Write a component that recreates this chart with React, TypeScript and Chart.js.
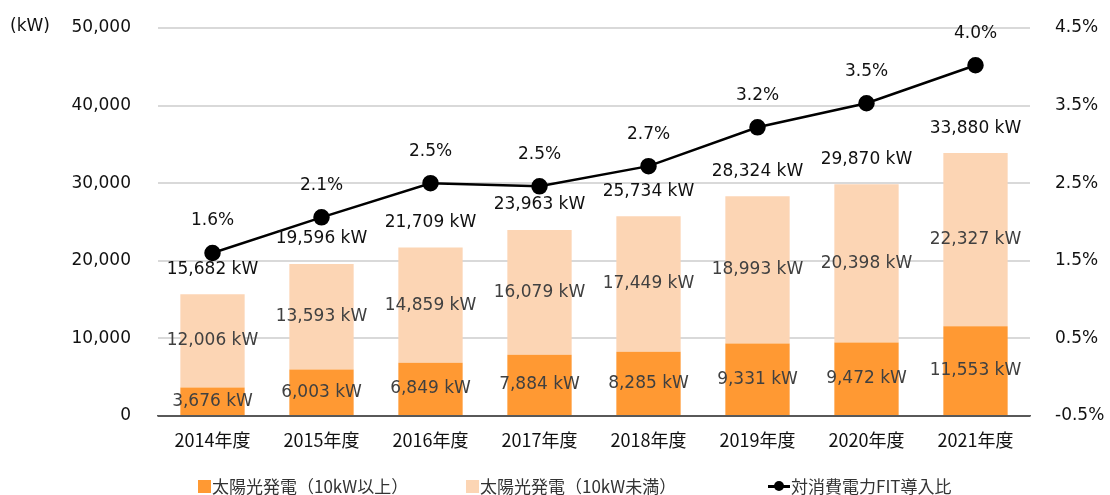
import React, { useEffect, useRef } from "react";
import { Chart, registerables } from "chart.js";

Chart.register(...registerables);

const categories = ["2014年度", "2015年度", "2016年度", "2017年度", "2018年度", "2019年度", "2020年度", "2021年度"];
const large = [3676, 6003, 6849, 7884, 8285, 9331, 9472, 11553];
const small = [12006, 13593, 14859, 16079, 17449, 18993, 20398, 22327];
const totals = [15682, 19596, 21709, 23963, 25734, 28324, 29870, 33880];
const ratio = [1.6, 2.06, 2.5, 2.46, 2.72, 3.22, 3.53, 4.02];
const seriesNames = ["太陽光発電（10kW以上）", "太陽光発電（10kW未満）", "対消費電力FIT導入比"];
const leftTicksMax = 50000;
const rightTicks = { min: -0.5, max: 4.5, step: 1 };

const DARK = "#FF9933";
const LIGHT = "#FCD5B4";
const NUM_FONT = "'DejaVu Sans', Verdana, sans-serif";
const CJK_FONT = "'Noto Sans CJK JP', sans-serif";

const fmt = (v: number) => v.toLocaleString("en-US");

const labelPlugin = {
  id: "labels",
  afterDatasetsDraw(chart: any) {
    const ctx = chart.ctx;
    ctx.save();
    ctx.textAlign = "center";
    ctx.textBaseline = "middle";
    ctx.font = `17px ${NUM_FONT}`;
    const m0 = chart.getDatasetMeta(0);
    const m1 = chart.getDatasetMeta(1);
    const m2 = chart.getDatasetMeta(2);
    m0.data.forEach((bar: any, i: number) => {
      const b1 = m1.data[i];
      ctx.fillStyle = "#404040";
      ctx.fillText(fmt(large[i]) + " kW", bar.x, (bar.y + bar.base) / 2);
      ctx.fillText(fmt(small[i]) + " kW", b1.x, (b1.y + b1.base) / 2);
      ctx.fillStyle = "#111";
      ctx.fillText(fmt(totals[i]) + " kW", b1.x, b1.y - 25);
      const p = m2.data[i];
      ctx.fillText(ratio[i].toFixed(1) + "%", p.x, p.y - 32);
    });
    ctx.textAlign = "left";
    ctx.fillStyle = "#111";
    ctx.fillText("(kW)", 10, chart.chartArea.top - 1);
    ctx.restore();
  },
};

export default function App() {
  const ref = useRef<HTMLCanvasElement>(null);
  useEffect(() => {
    if (!ref.current) return;
    const chart = new Chart(ref.current, {
      type: "bar",
      data: {
        labels: categories,
        datasets: [
          { type: "bar", label: seriesNames[0], data: large, backgroundColor: DARK, yAxisID: "y", order: 1, barPercentage: 0.59, categoryPercentage: 1 },
          { type: "bar", label: seriesNames[1], data: small, backgroundColor: LIGHT, yAxisID: "y", order: 1, barPercentage: 0.59, categoryPercentage: 1 },
          {
            type: "line", label: seriesNames[2], data: ratio, yAxisID: "y1", order: 0,
            borderColor: "#000", borderWidth: 2.5, backgroundColor: "#000",
            pointRadius: 7, pointBackgroundColor: "#000", pointBorderColor: "#000", tension: 0,
          },
        ],
      } as any,
      options: {
        animation: false,
        responsive: true,
        maintainAspectRatio: false,
        layout: { padding: { top: 28, bottom: 0, left: 0, right: 0 } },
        plugins: { legend: { display: false }, tooltip: { enabled: false } },
        scales: {
          x: {
            stacked: true,
            grid: { display: false, drawTicks: false },
            border: { display: true, color: "#595959", width: 1.5 },
            ticks: { font: { family: CJK_FONT, size: 18 }, color: "#111", padding: 13 },
            afterFit: (s: any) => { s.height = 79; },
          },
          y: {
            stacked: true,
            min: 0,
            max: leftTicksMax,
            border: { display: false },
            grid: {
              drawTicks: true,
              tickLength: 27,
              tickColor: "rgba(0,0,0,0)",
              lineWidth: 2,
              color: (c: any) => (c.tick && c.tick.value === 0 ? "#595959" : "#D9D9D9"),
            },
            ticks: { stepSize: 10000, padding: 0, color: "#111", font: { family: NUM_FONT, size: 17 }, callback: (v: any) => fmt(Number(v)) },
            afterFit: (s: any) => { s.width = 158; },
          },
          y1: {
            position: "right",
            min: rightTicks.min,
            max: rightTicks.max,
            border: { display: false },
            grid: { display: true, drawOnChartArea: false, drawTicks: true, tickLength: 25, tickColor: "rgba(0,0,0,0)", color: "rgba(0,0,0,0)" },
            ticks: { stepSize: rightTicks.step, padding: 0, color: "#111", font: { family: NUM_FONT, size: 17 }, callback: (v: any) => Number(v).toFixed(1) + "%" },
            afterFit: (s: any) => { s.width = 80; },
          },
        },
      } as any,
      plugins: [labelPlugin],
    });
    return () => chart.destroy();
  }, []);

  const legendText: React.CSSProperties = { position: "absolute", top: 476, fontFamily: CJK_FONT, fontSize: 17, color: "#333", lineHeight: "20px", whiteSpace: "nowrap" };
  return (
    <div style={{ position: "fixed", left: 0, top: 0, width: 1110, height: 495, background: "#fff" }}>
      <canvas ref={ref} />
      <div style={{ position: "absolute", left: 198, top: 480, width: 13, height: 13, background: DARK }} />
      <div style={{ ...legendText, left: 212 }}>{seriesNames[0]}</div>
      <div style={{ position: "absolute", left: 466, top: 480, width: 13, height: 13, background: LIGHT }} />
      <div style={{ ...legendText, left: 480 }}>{seriesNames[1]}</div>
      <div style={{ position: "absolute", left: 768, top: 485, width: 22, height: 2.5, background: "#000" }} />
      <div style={{ position: "absolute", left: 774, top: 481, width: 10, height: 10, borderRadius: 5, background: "#000" }} />
      <div style={{ ...legendText, left: 791 }}>{seriesNames[2]}</div>
    </div>
  );
}
